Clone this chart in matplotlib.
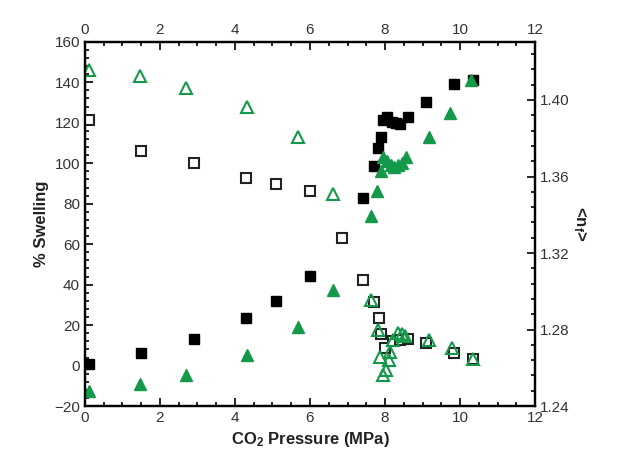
import matplotlib.pyplot as plt
from matplotlib.ticker import MultipleLocator

plt.rcParams['font.family'] = ['Liberation Sans', 'DejaVu Sans']
plt.rcParams['mathtext.default'] = 'regular'

green = '#14994a'

# % swelling (left axis), filled symbols
p_sq = [0.1, 1.5, 2.9, 4.3, 5.1, 6.0, 7.4, 7.7, 7.8, 7.88, 7.95, 8.05, 8.18,
        8.3, 8.4, 8.6, 9.1, 9.85, 10.35]
swell_sq = [0.8, 6.4, 13.3, 23.4, 32.1, 44.3, 83, 98.4, 107.4, 113.2, 121.4,
            122.8, 120.6, 119.8, 119.5, 123, 130.5, 139.2, 141]
p_tri = [0.1, 1.48, 2.69, 4.31, 5.69, 6.6, 7.63, 7.79, 7.88, 7.95, 8.05, 8.15,
         8.25, 8.35, 8.45, 8.55, 9.18, 9.72, 10.3]
swell_tri = [-12.5, -9, -4.5, 5, 19, 37.5, 74, 86.5, 96, 103, 101, 99, 98, 99,
             100, 103, 113, 125, 141]

# <n_f> (right axis), open symbols
p_osq = [0.1, 1.5, 2.9, 4.3, 5.1, 6.0, 6.85, 7.4, 7.7, 7.83, 7.9, 8.0, 8.2,
         8.4, 8.62, 9.1, 9.84, 10.35]
nf_sq = [1.3897, 1.3733, 1.3670, 1.3591, 1.3562, 1.3524, 1.3276, 1.3060,
         1.2942, 1.2860, 1.2776, 1.2706, 1.2738, 1.2748, 1.2749, 1.2730,
         1.2676, 1.2645]
p_otri = [0.1, 1.47, 2.69, 4.31, 5.69, 6.6, 7.62, 7.8, 7.87, 7.94, 8.03, 8.1,
          8.12, 8.22, 8.35, 8.44, 8.53, 9.16, 9.78, 10.35]
nf_tri = [1.4158, 1.4126, 1.4064, 1.3962, 1.3809, 1.3508, 1.2957, 1.2797,
          1.2658, 1.2562, 1.2588, 1.2640, 1.2684, 1.2744, 1.2780, 1.2775,
          1.2764, 1.2748, 1.2704, 1.2645]

fig = plt.figure(figsize=(6.2, 4.7), dpi=100)
ax = fig.add_axes([0.137, 0.136, 0.726, 0.775])
ax2 = ax.twinx()

ax.plot(p_sq, swell_sq, 's', color='black', ms=7, ls='none')
ax.plot(p_tri, swell_tri, '^', color=green, ms=9, ls='none')
ax2.plot(p_osq, nf_sq, 's', mfc='white', mec='#222222', mew=1.5, ms=6.5, ls='none')
ax2.plot(p_otri, nf_tri, '^', mfc='none', mec=green, mew=1.5, ms=9, ls='none')

ax.set_xlim(0, 12)
ax.set_ylim(-20, 160)
ax2.set_ylim(1.24, 1.4304)

ax.xaxis.set_major_locator(MultipleLocator(2))
ax.xaxis.set_minor_locator(MultipleLocator(0.5))
ax.yaxis.set_major_locator(MultipleLocator(20))
ax.yaxis.set_minor_locator(MultipleLocator(4))
ax2.yaxis.set_major_locator(MultipleLocator(0.04))
ax2.yaxis.set_minor_locator(MultipleLocator(0.008))
ax2.yaxis.set_major_formatter(lambda v, pos: f'{v:.2f}')

ax.tick_params(which='both', direction='in', top=True, labeltop=True,
               right=False, width=1.2, labelsize=11, labelcolor='#333333')
ax.tick_params(which='major', length=6)
ax.tick_params(which='minor', length=3)
ax2.tick_params(which='both', direction='in', width=1.2, labelsize=11,
                labelcolor='#333333')
ax2.tick_params(which='major', length=6)
ax2.tick_params(which='minor', length=3)

for a in (ax, ax2):
    for s in a.spines.values():
        s.set_linewidth(1.6)

ax.set_xlabel('CO$_2$ Pressure (MPa)', fontsize=12, fontweight='bold',
              color='#222222')
ax.set_ylabel('% Swelling', fontsize=12, fontweight='bold', color='#222222')
ax2.set_ylabel('<n$_f$>', fontsize=12, fontweight='bold', color='#222222',
               rotation=270, labelpad=14)

fig.savefig('out.png', dpi=100)
